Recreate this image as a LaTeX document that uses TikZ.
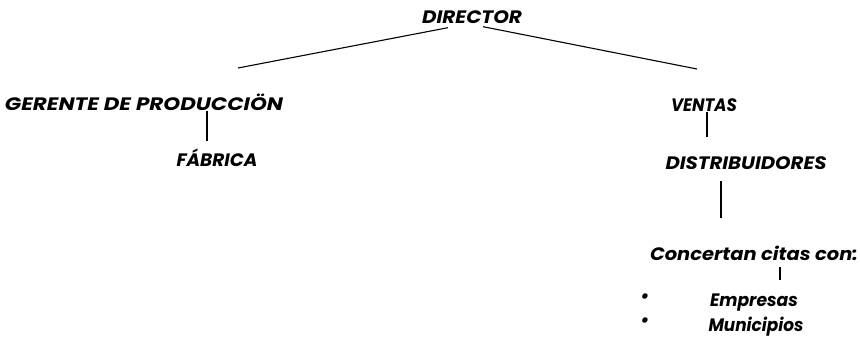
\documentclass[tikz,border=0pt]{standalone}
\usepackage{graphicx,fontspec}
\setmainfont{Poppins}
\usetikzlibrary{positioning}
\newcommand\fitto[2]{\resizebox{#1}{\height}{#2}}

\begin{document}
\begin{tikzpicture}[x=1pt,y=-1pt,line width=1.1pt,every node/.style={inner sep=0pt,anchor=base,font=\bfseries\itshape\fontsize{18}{20}\selectfont}]
\useasboundingbox (0,0) rectangle (860,338);
\node(D) at (472,23){\fitto{100pt}{DIRECTOR}};
\node(GP) at (144,110){\fitto{278pt}{GERENTE DE PRODUCCIÖN}};
\node(F) at (217,166){\fitto{81pt}{FÁBRICA}};
\node(V) at (704,111){\fitto{66pt}{VENTAS}};
\node(DI) at (746,169){\fitto{161pt}{DISTRIBUIDORES}};
\node(C) at (754,260){\fitto{208pt}{Concertan citas con:}};
\node(E) at (754,306){\fitto{88pt}{Empresas}};
\node(M) at (756,331){\fitto{95pt}{Municipios}};
\coordinate(gpTop) at (238,68);
\coordinate(vTop) at (697,69);
\coordinate(bx) at (645,0);
\foreach \n in {E,M}
  \node at (bx |- \n) {\textbullet};
\draw([xshift=-24pt,yshift=-4pt]D.south)--(gpTop);
\draw([xshift=11pt,yshift=-3pt]D.south)--(vTop);
\draw[shorten >=7pt]([xshift=-10pt]F.north |- GP.south)--([xshift=-10pt]F.north);
\draw[shorten >=19pt]([xshift=3pt]V.south)--([xshift=3pt]V.south |- DI.north);
\draw[shorten <=11pt,shorten >=27pt]([xshift=-25pt]DI.south)--([xshift=-25pt]DI.south |- C.north);
\draw[shorten <=6pt,shorten >=13pt]([xshift=26pt]C.south)--([xshift=26pt]C.south |- E.north);
\end{tikzpicture}
\end{document}
